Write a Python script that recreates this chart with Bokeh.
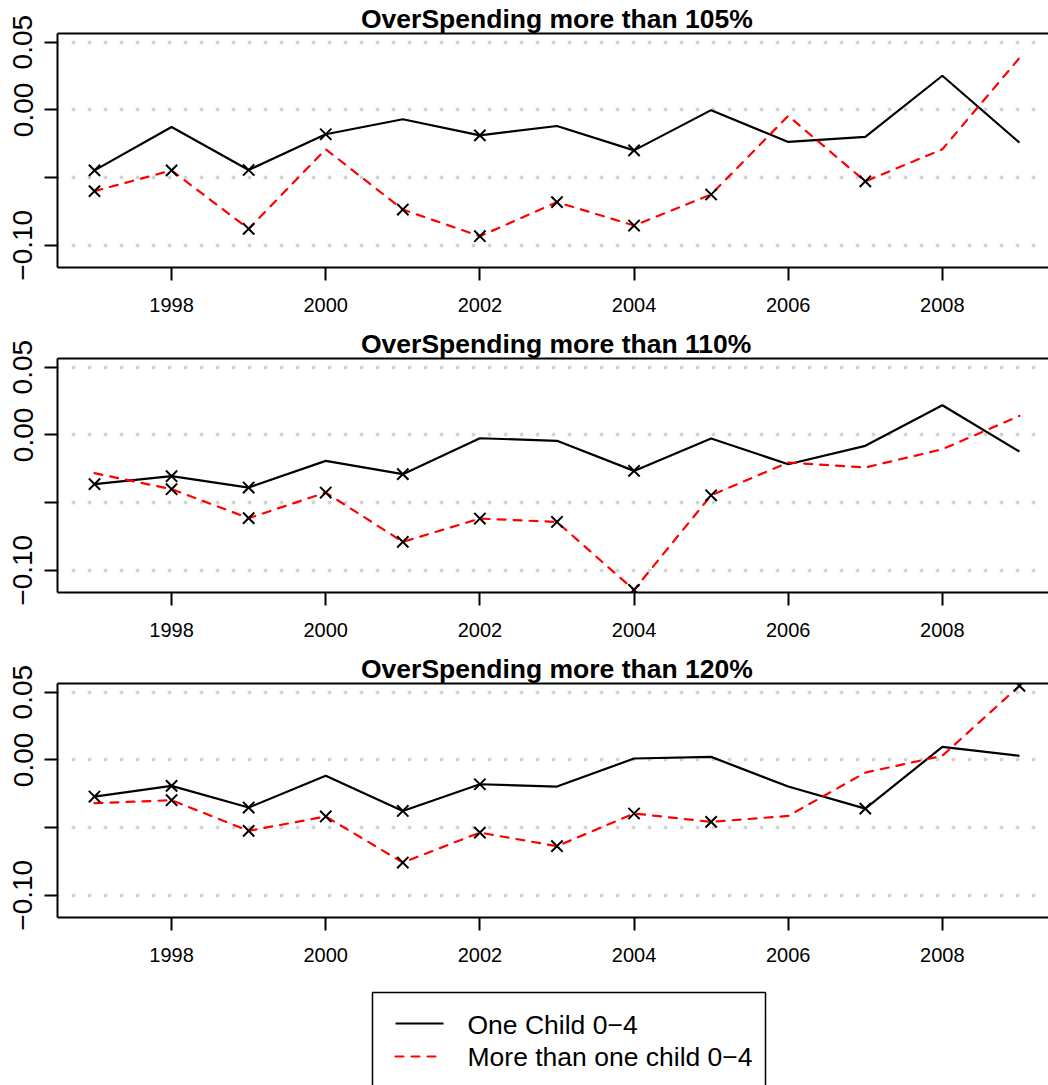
from bokeh.plotting import figure
from bokeh.models import Range1d, FixedTicker, LinearAxis
from bokeh.layouts import column
from bokeh.core.properties import value
from bokeh.embed import file_html
from bokeh.resources import INLINE

# ---- data -------------------------------------------------------------
years = list(range(1997, 2010))

titles = [
    "OverSpending more than 105%",
    "OverSpending more than 110%",
    "OverSpending more than 120%",
]

# difference series, one child aged 0-4
one_child_105 = [-0.0447, -0.0126, -0.0444, -0.0180, -0.0069, -0.0188, -0.0119,
                 -0.0299, -0.0002, -0.0237, -0.0200, 0.0252, -0.0242]
one_child_110 = [-0.0364, -0.0305, -0.0389, -0.0192, -0.0290, -0.0025, -0.0044,
                 -0.0266, -0.0027, -0.0217, -0.0081, 0.0219, -0.0123]
one_child_120 = [-0.0271, -0.0192, -0.0352, -0.0118, -0.0377, -0.0180, -0.0197,
                 0.0010, 0.0022, -0.0197, -0.0360, 0.0096, 0.0030]

# difference series, more than one child aged 0-4
more_child_105 = [-0.0600, -0.0447, -0.0879, -0.0291, -0.0736, -0.0933, -0.0681,
                  -0.0854, -0.0625, -0.0044, -0.0528, -0.0291, 0.0383]
more_child_110 = [-0.0283, -0.0401, -0.0615, -0.0426, -0.0790, -0.0618, -0.0643,
                  -0.1145, -0.0446, -0.0204, -0.0241, -0.0106, 0.0140]
more_child_120 = [-0.0320, -0.0298, -0.0524, -0.0418, -0.0758, -0.0537, -0.0637,
                  -0.0396, -0.0458, -0.0414, -0.0094, 0.0030, 0.0547]

# years flagged as significant (drawn with a cross)
one_child_105_sig = [1, 0, 1, 1, 0, 1, 0, 1, 0, 0, 0, 0, 0]
one_child_110_sig = [1, 1, 1, 0, 1, 0, 0, 1, 0, 0, 0, 0, 0]
one_child_120_sig = [1, 1, 1, 0, 1, 1, 0, 0, 0, 0, 1, 0, 0]
more_child_105_sig = [1, 1, 1, 0, 1, 1, 1, 1, 1, 0, 1, 0, 0]
more_child_110_sig = [0, 1, 1, 1, 1, 1, 1, 1, 1, 0, 0, 0, 0]
more_child_120_sig = [0, 1, 1, 1, 1, 1, 1, 1, 1, 0, 0, 0, 1]

x_ticks = [1998, 2000, 2002, 2004, 2006, 2008]
y_ticks = [-0.10, -0.05, 0.0, 0.05]
y_tick_labels = ["\u22120.10", "", "0.00", "0.05"]
legend_labels = ["One Child 0\u22124", "More than one child 0\u22124"]

# ---- styling ------------------------------------------------------------
FONT = "Liberation Sans"
X_LO, X_HI = 1996.52, 2009.377
Y_LO, Y_HI = -0.1164, 0.0564


def panel(title, one, more, one_sig, more_sig):
    p = figure(width=1048, height=325,
               x_range=Range1d(X_LO, X_HI), y_range=Range1d(Y_LO, Y_HI),
               output_backend="svg", toolbar_location=None,
               min_border_left=57, min_border_right=0,
               min_border_top=33, min_border_bottom=58)
    p.outline_line_color = None
    p.background_fill_color = "white"
    p.border_fill_color = "white"

    p.title.text = title
    p.title.align = "left"
    p.title.offset = 303.5
    p.title.text_font = FONT
    p.title.text_font_style = "bold"
    p.title.text_font_size = "26.5px"
    p.title.text_color = "black"
    p.title.standoff = 0

    # dotted horizontal reference lines
    p.xgrid.visible = False
    p.ygrid.ticker = FixedTicker(ticks=y_ticks)
    p.ygrid.grid_line_color = "#D3D3D3"
    p.ygrid.grid_line_width = 4
    p.ygrid.grid_line_dash = "0 16"
    p.ygrid.grid_line_cap = "round"

    xa = p.xaxis[0]
    xa.ticker = FixedTicker(ticks=x_ticks)
    xa.major_label_text_font = FONT
    xa.major_label_text_font_size = "20px"
    xa.major_label_text_color = "black"
    xa.major_tick_out = 13
    xa.major_tick_in = 0
    xa.minor_tick_out = 0
    xa.major_label_standoff = 17
    xa.axis_line_width = 2
    xa.major_tick_line_width = 2

    ya = p.yaxis[0]
    ya.ticker = FixedTicker(ticks=y_ticks)
    ya.major_label_overrides = {t: s for t, s in zip(y_ticks, y_tick_labels)}
    ya.major_label_orientation = "vertical"
    ya.major_label_text_font = FONT
    ya.major_label_text_font_size = "28px"
    ya.major_label_text_color = "black"
    ya.major_tick_out = 13
    ya.major_tick_in = 0
    ya.minor_tick_out = 0
    ya.major_label_standoff = 12
    ya.axis_line_width = 2
    ya.major_tick_line_width = 2

    # top edge of the box
    top = LinearAxis(ticker=FixedTicker(ticks=[]), major_label_text_font_size="0px",
                     major_tick_out=0, major_tick_in=0, minor_tick_out=0,
                     major_label_standoff=0, axis_line_width=2)
    p.add_layout(top, "above")

    p.line(years, one, line_color="black", line_width=2.2)
    p.line(years, more, line_color="red", line_width=2.2,
           line_dash="8 8", line_cap="round")

    for ys, flags in ((one, one_sig), (more, more_sig)):
        sx = [x for x, f in zip(years, flags) if f]
        sy = [y for y, f in zip(ys, flags) if f]
        p.scatter(sx, sy, marker="x", size=16, line_color="black", line_width=2)
    return p


p1 = panel(titles[0], one_child_105, more_child_105, one_child_105_sig, more_child_105_sig)
p2 = panel(titles[1], one_child_110, more_child_110, one_child_110_sig, more_child_110_sig)
p3 = panel(titles[2], one_child_120, more_child_120, one_child_120_sig, more_child_120_sig)

# ---- legend strip (coordinates in page pixels) ---------------------------
lg = figure(width=1048, height=110, x_range=Range1d(57, 1048), y_range=Range1d(110, 0),
            output_backend="svg", toolbar_location=None,
            x_axis_type=None, y_axis_type=None,
            min_border_left=57, min_border_right=0, min_border_top=0, min_border_bottom=0)
lg.outline_line_color = None
lg.xgrid.visible = False
lg.ygrid.visible = False
lg.quad(left=[372], right=[765], top=[17], bottom=[118], fill_color=None,
        line_color="black", line_width=1.5)
lg.segment(x0=[395], y0=[48], x1=[443], y1=[48], line_color="black", line_width=2)
lg.segment(x0=[395], y0=[81], x1=[443], y1=[81], line_color="red", line_width=2,
           line_dash="8 8", line_cap="round")
lg.text(x=[467, 467], y=[49, 81], text=legend_labels, text_font=value(FONT),
        text_font_size="26.5px", text_baseline="alphabetic", text_color="black")

layout = column(p1, p2, p3, lg, spacing=0)

with open("out.html", "w") as f:
    f.write(file_html(layout, INLINE))
